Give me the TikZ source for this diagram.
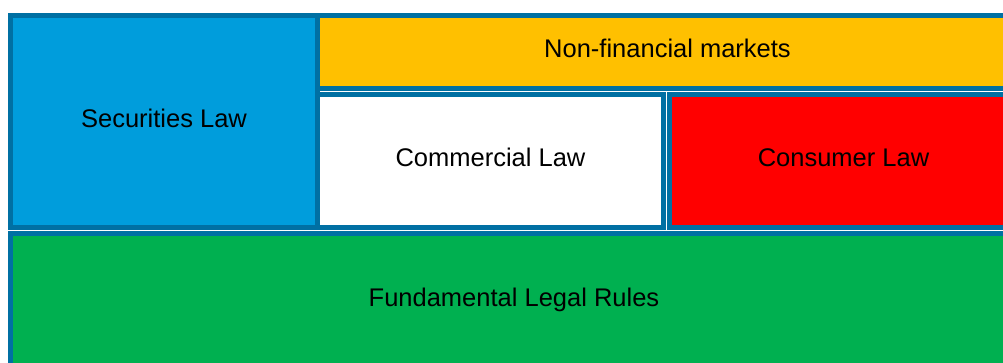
\documentclass[tikz,border=0pt]{standalone}
\usepackage{fontspec}
\setmainfont{Liberation Sans}
\definecolor{framecol}{RGB}{0,112,163}
\definecolor{seccol}{RGB}{0,157,220}
\definecolor{mktcol}{RGB}{255,192,0}
\definecolor{conscol}{RGB}{255,0,0}
\definecolor{fundcol}{RGB}{0,176,80}
\tikzset{
  lawbox/.style={draw=framecol, line width=5pt, rectangle, inner sep=0pt,
    font=\fontsize{25.5}{30}\selectfont, text=black,
    text height=17pt, text depth=5.5pt},
}

\begin{document}
\begin{tikzpicture}[x=1pt,y=-1pt]
\useasboundingbox (0,0) rectangle (1003,362);
\clip (0,0) rectangle (1003,362);
% upper block
\node[lawbox, fill=seccol, minimum width=307, minimum height=212] (sec) at (164,121.5) {Securities Law};
\node[lawbox, fill=mktcol, minimum width=700, minimum height=73] (mkt) at (667.5,52) {Non-financial markets};
\node[lawbox, fill=white, minimum width=346, minimum height=133] (comm) at (490.5,161) {Commercial Law};
\node[lawbox, fill=conscol, minimum width=348, minimum height=133] (cons) at (843.5,161) {Consumer Law};
% base layer
\node[lawbox, fill=fundcol, minimum width=1007, minimum height=134] (fund) at (514,300.5) {Fundamental Legal Rules};
\end{tikzpicture}
\end{document}
